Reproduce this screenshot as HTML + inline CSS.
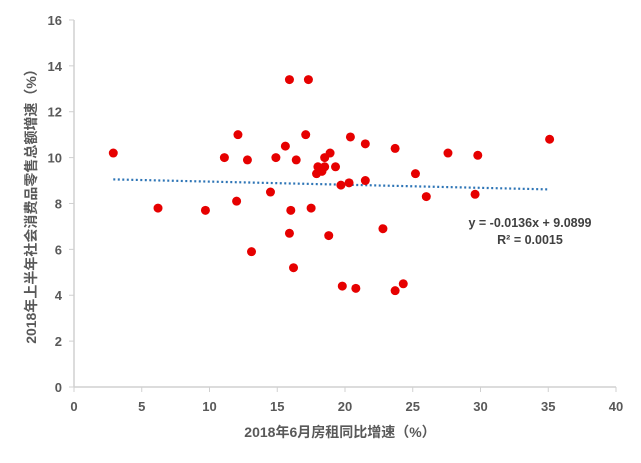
<!DOCTYPE html>
<html><head><meta charset="utf-8"><style>
body{margin:0;background:#fff;width:641px;height:458px;overflow:hidden}
svg{font-family:"Liberation Sans","Noto Sans CJK SC",sans-serif}
</style></head><body>
<svg id="c" width="641" height="458"></svg>
<script>
const xTicks=[0,5,10,15,20,25,30,35,40];
const yTicks=[0,2,4,6,8,10,12,14,16];
const xVals=[2.9,6.2,9.7,11.1,12.1,12.0,12.8,13.1,14.5,14.9,15.6,15.9,15.9,16.0,16.2,16.4,17.1,17.3,17.5,17.9,18.3,18.0,18.5,18.5,18.9,19.3,18.8,19.7,19.8,20.4,20.3,20.8,21.5,21.5,22.8,23.7,23.7,24.3,25.2,26.0,27.6,29.8,29.6,35.1];
const yVals=[10.2,7.8,7.7,10.0,11.0,8.1,9.9,5.9,8.5,10.0,10.5,13.4,6.7,7.7,5.2,9.9,11.0,13.4,7.8,9.3,9.4,9.6,9.6,10.0,10.2,9.6,6.6,8.8,4.4,10.9,8.9,4.3,10.6,9.0,6.9,10.4,4.2,4.5,9.3,8.3,10.2,10.1,8.4,10.8];
const slope=-0.0136, intercept=9.0899;
const NS="http://www.w3.org/2000/svg";
const svg=document.getElementById('c');
const X=v=>74+v*13.55, Y=v=>387-v*22.94;
function mk(t,a,p){const e=document.createElementNS(NS,t);for(const k in a)e.setAttribute(k,a[k]);(p||svg).appendChild(e);return e;}
let ax=mk('line',{x1:74,y1:387,x2:616,y2:387,stroke:'#d0d0d0','stroke-width':1.5});


let ay=mk('line',{x1:74,y1:20,x2:74,y2:387,stroke:'#d0d0d0','stroke-width':1.5});


xTicks.forEach(t=>{
 const l=mk('line',{x1:X(t),y1:387,x2:X(t),y2:392,stroke:'#d0d0d0'});
 
 
 const tx=mk('text',{x:X(t),y:411,'text-anchor':'middle','font-size':13,'font-weight':'bold',fill:'#595959'});
 tx.textContent=t;
 
 
});
yTicks.forEach(t=>{
 const l=mk('line',{x1:69,y1:Y(t),x2:74,y2:Y(t),stroke:'#d0d0d0'});
 
 
 const tx=mk('text',{x:62,y:Y(t)+5,'text-anchor':'end','font-size':13,'font-weight':'bold',fill:'#595959'});
 tx.textContent=t;
 
 
});
const x0=Math.min(...xVals), x1=Math.max(...xVals);
const tl=mk('line',{x1:X(x0),y1:Y(slope*x0+intercept),x2:X(x1),y2:Y(slope*x1+intercept),stroke:'#2e75b6','stroke-width':2.2,'stroke-dasharray':'2,2.5'});


xVals.forEach((v,i)=>{
 const c=mk('circle',{cx:X(v),cy:Y(yVals[i]),r:4.5,fill:'#e60000'});
 
 
});
</script>
<svg width="641" height="458" style="position:absolute;left:0;top:0">
<text x="530" y="227" text-anchor="middle" font-size="12.5" font-weight="bold" fill="#404040" font-family="Liberation Sans,sans-serif">y = -0.0136x + 9.0899</text>
<text x="530" y="244" text-anchor="middle" font-size="12.5" font-weight="bold" fill="#404040" font-family="Liberation Sans,sans-serif">R² = 0.0015</text>
<text x="340" y="437" text-anchor="middle" font-size="14" font-weight="bold" fill="#595959" font-family="Liberation Sans,Noto Sans CJK SC,sans-serif">2018年6月房租同比增速（%）</text>
<text transform="translate(36,203) rotate(-90)" text-anchor="middle" font-size="14" font-weight="bold" fill="#595959" font-family="Liberation Sans,Noto Sans CJK SC,sans-serif">2018年上半年社会消费品零售总额增速（%）</text>
</svg>
</body></html>
